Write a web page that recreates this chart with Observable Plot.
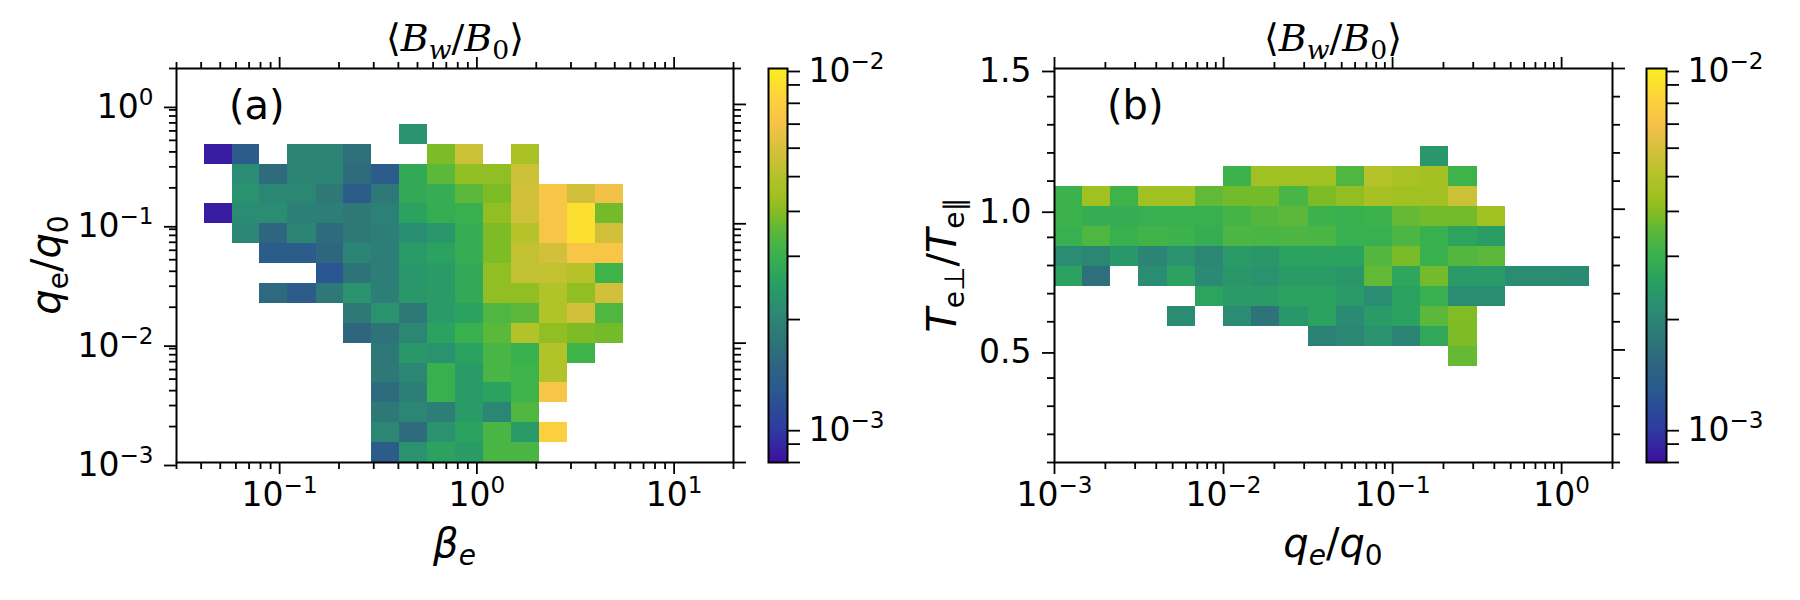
<!DOCTYPE html>
<html><head><meta charset="utf-8">
<script src="https://cdn.jsdelivr.net/npm/d3@7"></script>
<script src="https://cdn.jsdelivr.net/npm/@observablehq/plot@0.6"></script>
<style>
body{margin:0;background:#fff;}
#fig{position:relative;width:1800px;height:600px;background:#fff;overflow:hidden;font-family:"DejaVu Sans";}
#fig > svg{position:absolute;top:0;}
</style></head><body><div id="fig"></div>
<script>
// ---------- data (values of <B_w/B_0> in units of 1e-3) ----------
const BW_UNIT = 1e-3;
const betaEdges = [0.0414, 0.0574, 0.0794, 0.110, 0.153, 0.211, 0.293, 0.406, 0.562, 0.780, 1.08, 1.50, 2.07, 2.88, 3.98, 5.52];
const qEdges = [0.001, 0.00147, 0.00215, 0.00316, 0.00464, 0.00681, 0.01, 0.0147, 0.0215, 0.0316, 0.0464, 0.0681, 0.1, 0.147, 0.215, 0.316, 0.464, 0.681, 1.0, 1.47];
const tEdges = [0.442, 0.513, 0.584, 0.655, 0.726, 0.797, 0.868, 0.939, 1.010, 1.081, 1.152, 1.223];
const _ = null;
// panel (a): rows = q_e/q_0 bins (bottom -> top), columns = beta_e bins
const bwA = [
  [_,_,_,_,_,_,1.35,2.25,2.6,2.45,3.25,3.25,_,_,_],
  [_,_,_,_,_,_,2.05,1.6,2.25,2.6,3.25,2.45,8.0,_,_],
  [_,_,_,_,_,_,1.8,2.05,1.9,2.45,2.05,3.35,_,_,_],
  [_,_,_,_,_,_,1.6,1.9,3.0,2.45,2.6,3.1,7.3,_,_],
  [_,_,_,_,_,_,1.8,2.05,3.0,2.45,3.25,3.1,4.95,_,_],
  [_,_,_,_,_,_,1.8,2.35,2.25,2.6,3.25,3.0,4.95,3.1,_],
  [_,_,_,_,_,1.5,1.7,2.05,2.6,3.0,3.55,4.95,4.15,3.9,3.8],
  [_,_,_,_,_,1.8,2.25,1.8,2.45,2.6,3.35,3.55,4.95,5.8,3.35],
  [_,_,1.55,1.35,1.8,2.25,1.9,2.35,2.45,2.8,4.15,4.15,4.95,4.15,5.8],
  [_,_,_,_,1.25,1.7,1.9,2.35,2.45,2.8,4.15,5.4,5.4,5.05,3.1],
  [_,_,1.35,1.35,1.5,2.0,1.9,2.45,2.6,2.9,3.9,5.4,5.8,7.3,7.3],
  [_,2.05,1.5,2.0,1.6,1.8,1.9,2.2,2.35,2.9,3.9,5.05,7.3,9.0,5.8],
  [0.85,2.15,2.15,1.9,1.9,1.8,1.95,2.6,2.9,3.0,4.15,5.8,7.3,9.0,3.8],
  [_,2.25,2.05,2.05,1.8,1.35,1.8,2.8,2.9,3.55,3.9,5.8,7.3,5.8,6.8],
  [_,2.15,1.6,2.0,2.0,1.6,1.35,2.8,3.55,4.15,4.15,5.6,_,_,_],
  [0.85,1.35,_,2.0,2.0,1.65,_,_,3.9,5.6,_,4.7,_,_,_],
  [_,_,_,_,_,_,_,2.25,_,_,_,_,_,_,_]
];
// panel (b): rows = T_e_perp/T_e_par bins (bottom -> top), columns = q_e/q_0 bins
const bwB = [
  [_,_,_,_,_,_,_,_,_,_,_,_,_,_,3.65,_,_,_,_],
  [_,_,_,_,_,_,_,_,_,1.95,2.05,2.25,2.0,2.75,3.9,_,_,_,_],
  [_,_,_,_,2.15,_,2.15,1.7,2.35,2.6,2.1,2.45,2.6,3.55,3.95,_,_,_,_],
  [_,_,_,_,_,2.65,2.45,2.45,2.6,2.6,2.45,2.15,2.6,2.95,2.15,2.15,_,_,_],
  [2.6,1.65,_,2.15,2.6,2.1,2.35,2.25,2.45,2.45,2.35,3.6,2.7,3.8,2.45,2.45,2.15,2.15,2.1],
  [2.15,2.05,2.35,2.0,2.25,2.05,2.45,2.35,2.6,2.6,2.6,3.4,3.85,3.0,3.4,3.55,_,_,_],
  [2.95,3.35,3.0,3.15,3.05,2.9,3.3,3.25,3.3,3.25,2.95,2.95,3.3,3.0,2.65,2.5,_,_,_],
  [3.05,2.9,2.9,2.95,2.95,3.0,3.2,3.4,3.55,3.05,3.0,3.05,3.65,3.8,3.8,4.4,_,_,_],
  [3.05,4.4,3.1,4.4,4.4,3.6,3.8,3.8,3.25,3.9,4.15,4.6,4.4,4.4,5.6,_,_,_,_],
  [_,_,_,_,_,_,3.05,4.4,4.4,4.4,3.35,5.05,4.7,4.5,3.1,_,_,_,_],
  [_,_,_,_,_,_,_,_,_,_,_,_,_,2.35,_,_,_,_,_]
];
// axis domains and ticks
const betaDomain = [0.03, 20];
const qDomain = [0.001, 2];
const tDomain = [0.1, 1.5];
const colorDomain = [8e-4, 1e-2];
const betaMajor = [0.1, 1, 10];
const betaMinor = [0.03,0.04,0.05,0.06,0.07,0.08,0.09,0.2,0.3,0.4,0.5,0.6,0.7,0.8,0.9,2,3,4,5,6,7,8,9,20];
const qMajor = [0.001, 0.01, 0.1, 1];
const qMinor = [0.002,0.003,0.004,0.005,0.006,0.007,0.008,0.009,0.02,0.03,0.04,0.05,0.06,0.07,0.08,0.09,0.2,0.3,0.4,0.5,0.6,0.7,0.8,0.9,2];
const tMajor = [0.5, 1.0, 1.5];
const tMinor = [0.1,0.2,0.3,0.4,0.6,0.7,0.8,0.9,1.1,1.2,1.3,1.4];
const cbMajor = [0.001, 0.01];
const cbMinor = [0.0008,0.0009,0.002,0.003,0.004,0.005,0.006,0.007,0.008,0.009];
// colormap stops
const cmapPos = [0, 0.08, 0.18, 0.25, 0.32, 0.40, 0.46, 0.53, 0.59, 0.63, 0.67, 0.73, 0.79, 0.86, 0.93, 1];
const cmapCol = ["#3e0ea0","#2e3aa2","#2a5890","#2e6680","#2e7878","#2a8f72","#2aa062","#3bb24c","#5cb83a","#80bc24","#9fc021","#b5c22a","#d4c03c","#f7c24a","#fcd53a","#fcee21"];

// ---------- helpers ----------
const cmapScale = d3.scaleLinear().domain(cmapPos).range(cmapCol).interpolate(d3.interpolateRgb).clamp(true);
const colorOpts = {type: "log", domain: colorDomain, interpolate: t => cmapScale(t)};
function fmtPow(v) { const e = Math.round(Math.log10(v)); return "10^" + String(e).replace("-", "−"); }
const blank = () => "";
const TICK_FS = 33;

function cellsFrom(grid, xEdges, yEdges) {
  const out = [];
  grid.forEach((row, r) => row.forEach((v, c) => {
    if (v != null) out.push({x1: xEdges[c], x2: xEdges[c + 1], y1: yEdges[r], y2: yEdges[r + 1], v: v * BW_UNIT});
  }));
  return out;
}

function supify(svg) {
  d3.select(svg).selectAll("text").each(function () {
    const s = this.textContent;
    const m = /^(.*)\^(.*)$/.exec(s);
    if (!m) return;
    const sel = d3.select(this);
    sel.text(null);
    sel.append("tspan").text(m[1]);
    sel.append("tspan").attr("dy", -13).attr("font-size", (TICK_FS * 0.7) + "px").text(m[2]);
  });
}

const fig = document.getElementById("fig");
const TOP = 68, BOTTOM = 462;
const tickStyle = {strokeWidth: 1.8};

function panel({svgLeft, frameLeft, frameRight, xDomain, yType, yDomain, cells, xMaj, xMin, yMaj, yMin, yFmt}) {
  const W = 900;
  const p = Plot.plot({
    width: W, height: 600,
    marginLeft: frameLeft - svgLeft, marginRight: W - (frameRight - svgLeft),
    marginTop: TOP, marginBottom: 600 - BOTTOM,
    style: {background: "none", fontFamily: "DejaVu Sans", fontSize: TICK_FS + "px", color: "#000", overflow: "visible"},
    x: {type: "log", domain: xDomain},
    y: {type: yType, domain: yDomain},
    color: colorOpts,
    marks: [
      Plot.rect(cells, {x1: "x1", x2: "x2", y1: "y1", y2: "y2", fill: "v", shapeRendering: "crispEdges"}),
      Plot.axisX(xMaj, {anchor: "bottom", tickSize: 12, tickPadding: 8, tickFormat: fmtPow, label: null, ...tickStyle}),
      Plot.axisX(xMin, {anchor: "bottom", tickSize: 7, tickFormat: blank, label: null, ...tickStyle}),
      Plot.axisX(xMaj, {anchor: "top", tickSize: 12, tickFormat: blank, label: null, ...tickStyle}),
      Plot.axisX(xMin, {anchor: "top", tickSize: 7, tickFormat: blank, label: null, ...tickStyle}),
      Plot.axisY(yMaj, {anchor: "left", tickSize: 12, tickPadding: 11, tickFormat: yFmt, label: null, dy: 3, ...tickStyle}),
      Plot.axisY(yMin, {anchor: "left", tickSize: 7, tickFormat: blank, label: null, ...tickStyle}),
      Plot.axisY(yMaj, {anchor: "right", tickSize: 12, tickFormat: blank, label: null, ...tickStyle}),
      Plot.axisY(yMin, {anchor: "right", tickSize: 7, tickFormat: blank, label: null, ...tickStyle}),
      Plot.frame({stroke: "#000", strokeWidth: 2})
    ]
  });
  p.style.left = svgLeft + "px";
  supify(p);
  fig.appendChild(p);
}

function colorbar({svgLeft, barLeft, barRight}) {
  const W = 200;
  const L = d3.extent(colorDomain.map(Math.log10));
  const p = Plot.plot({
    width: W, height: 600,
    marginLeft: barLeft - svgLeft, marginRight: W - (barRight - svgLeft),
    marginTop: TOP, marginBottom: 600 - BOTTOM,
    style: {background: "none", fontFamily: "DejaVu Sans", fontSize: TICK_FS + "px", color: "#000", overflow: "visible"},
    x: {domain: [0, 1], axis: null},
    y: {domain: L},
    color: colorOpts,
    marks: [
      Plot.raster({x1: 0, x2: 1, y1: L[0], y2: L[1], fill: (x, y) => Math.pow(10, y), pixelSize: 1}),
      Plot.axisY(cbMajor.map(Math.log10), {anchor: "right", tickSize: 12, tickPadding: 9, tickFormat: d => fmtPow(Math.pow(10, d)), label: null, dy: 3, ...tickStyle}),
      Plot.axisY(cbMinor.map(Math.log10), {anchor: "right", tickSize: 12, tickFormat: blank, label: null, ...tickStyle}),
      Plot.frame({stroke: "#000", strokeWidth: 2})
    ]
  });
  p.style.left = svgLeft + "px";
  supify(p);
  fig.appendChild(p);
}

panel({svgLeft: 0, frameLeft: 176, frameRight: 733, xDomain: betaDomain, yType: "log", yDomain: qDomain,
  cells: cellsFrom(bwA, betaEdges, qEdges), xMaj: betaMajor, xMin: betaMinor, yMaj: qMajor, yMin: qMinor, yFmt: fmtPow});
panel({svgLeft: 900, frameLeft: 1054, frameRight: 1612, xDomain: qDomain, yType: "linear", yDomain: tDomain,
  cells: cellsFrom(bwB, qEdges, tEdges), xMaj: qMajor, xMin: qMinor, yMaj: tMajor, yMin: tMinor, yFmt: d3.format(".1f")});
colorbar({svgLeft: 740, barLeft: 768, barRight: 787});
colorbar({svgLeft: 1618, barLeft: 1646, barRight: 1666});

// ---------- text overlay (titles, axis labels, panel letters) ----------
const ov = d3.select(fig).append("svg").attr("width", 1800).attr("height", 600).style("left", "0px");
function rich(x, y, parts, {size, family = "DejaVu Sans", anchor = "middle", rotate = 0, subScale = 0.7, subShift = 0.2}) {
  const t = ov.append("text").attr("x", x).attr("y", y).attr("text-anchor", anchor)
    .attr("font-size", size).attr("font-family", family).attr("fill", "#000");
  if (rotate) t.attr("transform", `rotate(${rotate},${x},${y})`);
  let off = 0;
  for (const p of parts) {
    const target = p.sub ? size * subShift : 0;
    const ts = t.append("tspan").attr("dy", target - off).text(p.t);
    off = target;
    if (p.sub) ts.attr("font-size", size * subScale);
    if (p.it) ts.attr("font-style", "italic");
  }
}
const serif = "DejaVu Serif, Liberation Serif, serif";
const titleParts = [{t: "⟨"}, {t: "B", it: 1}, {t: "w", it: 1, sub: 1}, {t: "/"}, {t: "B", it: 1}, {t: "0", sub: 1}, {t: "⟩"}];
rich(455, 51, titleParts, {size: 38, family: serif});
rich(1333, 51, titleParts, {size: 38, family: serif});
rich(229, 119, [{t: "(a)"}], {size: 40, anchor: "start"});
rich(1107, 119, [{t: "(b)"}], {size: 40, anchor: "start"});
rich(454.5, 557, [{t: "β", it: 1}, {t: "e", it: 1, sub: 1}], {size: 40});
rich(60, 265, [{t: "q", it: 1}, {t: "e", sub: 1}, {t: "/"}, {t: "q", it: 1}, {t: "0", sub: 1}], {size: 40, rotate: -90});
rich(1333, 557, [{t: "q", it: 1}, {t: "e", it: 1, sub: 1}, {t: "/"}, {t: "q", it: 1}, {t: "0", sub: 1}], {size: 40});
rich(956, 265, [{t: "T", it: 1}, {t: "e⊥", sub: 1}, {t: "/"}, {t: "T", it: 1}, {t: "e∥", sub: 1}], {size: 40, rotate: -90});
</script></body></html>
